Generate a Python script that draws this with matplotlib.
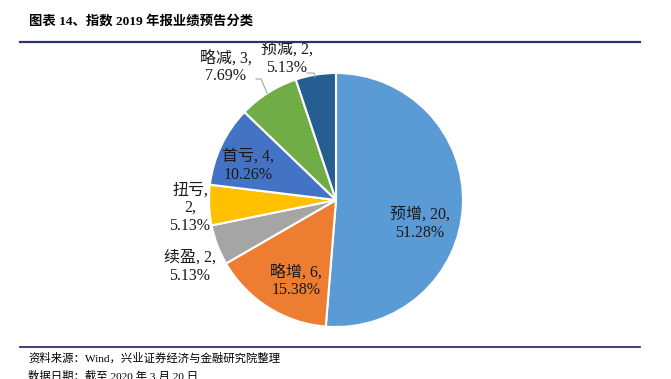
import matplotlib.pyplot as plt
from matplotlib.lines import Line2D

# 数据
categories = ['预增', '略增', '续盈', '扭亏', '首亏', '略减', '预减']
counts = [20, 6, 2, 2, 4, 3, 2]
colors = ['#5B9BD5', '#ED7D31', '#A5A5A5', '#FFC000', '#4472C4', '#70AD47', '#255E91']

FONT = ['Liberation Serif', 'Noto Sans CJK SC']
plt.rcParams['font.family'] = FONT

W, H = 671, 379
fig = plt.figure(figsize=(W / 100, H / 100), dpi=100)

# 饼图区域 (像素: 圆心 336,200 半径 127)
cx, cy, r = 336, 200, 127
ax = fig.add_axes([(cx - r) / W, (H - cy - r) / H, 2 * r / W, 2 * r / H])
ax.pie(counts, colors=colors, startangle=90, counterclock=False,
       wedgeprops=dict(edgecolor='white', linewidth=1.5))
ax.set_xlim(-1, 1)
ax.set_ylim(-1, 1)
ax.set_aspect('equal')
ax.axis('off')

total = sum(counts)
pct = [c / total * 100 for c in counts]

def px(x, y):
    return ((x - cx) / r, (cy - y) / r)

# 标签位置 (像素)
label_pos = [(420, 224), (296, 281), (190, 267), (190, 208), (248, 166), (226, 67), (287, 59)]
for i, (name, c, p) in enumerate(zip(categories, counts, pct)):
    if name == '扭亏':
        s = '%s,\n%d,\n%.2f%%' % (name, c, p)
    else:
        s = '%s, %d,\n%.2f%%' % (name, c, p)
    x, y = px(*label_pos[i])
    ax.text(x, y, s, ha='center', va='center', fontsize=11.5, color='#1A1A1A',
            linespacing=1.15, clip_on=False)

# 引导线
for pts in [[(256, 79), (261, 79), (267, 93)], [(307, 73), (314, 73), (315, 77)]]:
    xs = [px(a, b)[0] for a, b in pts]
    ys = [px(a, b)[1] for a, b in pts]
    ax.plot(xs, ys, color='#A6A6A6', linewidth=0.8, clip_on=False)

# 标题与分割线
fig.text(29 / W, 1 - 21 / H, '图表 14、指数 2019 年报业绩预告分类', fontsize=9.6,
         fontweight='bold', va='center', ha='left', color='black')
fig.add_artist(Line2D([20 / W, 640 / W], [1 - 42 / H] * 2, color='#2E3170', linewidth=1.6))
fig.add_artist(Line2D([20 / W, 640 / W], [1 - 347 / H] * 2, color='#2E3170', linewidth=1.3))

# 注释
fig.text(28 / W, 1 - 358 / H, '资料来源：Wind，兴业证券经济与金融研究院整理', fontsize=8.2,
         va='center', ha='left', color='black')
fig.text(28 / W, 1 - 376 / H, '数据日期：截至 2020 年 3 月 20 日', fontsize=8.2,
         va='center', ha='left', color='black')

fig.savefig('out.png', dpi=100)
